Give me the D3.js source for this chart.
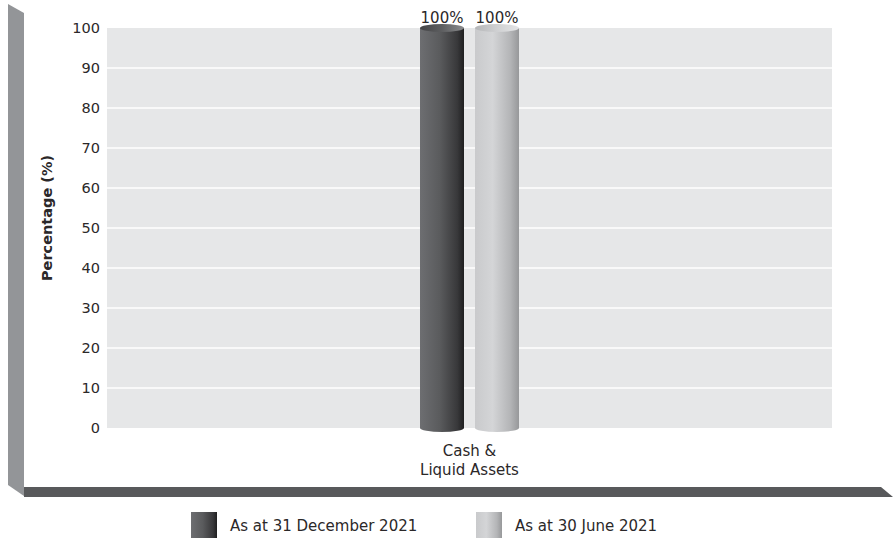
<!DOCTYPE html>
<html><head><meta charset="utf-8">
<script src="https://cdn.jsdelivr.net/npm/d3@7"></script>
<style>body{margin:0;background:#fff}svg{display:block}text{font-family:"DejaVu Sans",sans-serif;fill:#2b2829}</style>
</head><body>
<svg id="c" width="893" height="540"></svg>
<script>
const categories = ["Cash &\nLiquid Assets"];
const seriesNames = ["As at 31 December 2021", "As at 30 June 2021"];
const dec2021 = [100];
const jun2021 = [100];
const yTicks = [0,10,20,30,40,50,60,70,80,90,100];

const svg = d3.select("#c");
const defs = svg.append("defs");
function grad(id, stops){
  const g = defs.append("linearGradient").attr("id",id).attr("x1","0%").attr("x2","100%").attr("y1","0%").attr("y2","0%");
  stops.forEach(s=>g.append("stop").attr("offset",s[0]).attr("stop-color",s[1]));
}
grad("gDark",[["0%","#6d6e71"],["45%","#5a5b5d"],["85%","#38383a"],["100%","#1f1f20"]]);
grad("gDarkTop",[["0%","#444446"],["50%","#5d5e60"],["100%","#8a8b8d"]]);
grad("gLight",[["0%","#c9cacc"],["40%","#d4d5d7"],["80%","#b4b5b7"],["100%","#97989a"]]);
grad("gLightTop",[["0%","#b5b6b8"],["50%","#cfd0d2"],["100%","#e4e5e6"]]);

// 3D wall and floor
svg.append("polygon").attr("points","8,4 24,13 24,496 8,485").attr("fill","#939598");
svg.append("polygon").attr("points","24,487 881,487 893,497 24,497").attr("fill","#58595b");

const x0 = d3.scaleBand().domain(categories).range([107,832]);
const y = d3.scaleLinear().domain([0,100]).range([428,28]);
const groupW = 99;
const x1 = d3.scaleBand().domain(seriesNames).range([0,groupW]).paddingInner(0.2);

svg.append("rect").attr("x",107).attr("y",y(100)).attr("width",725).attr("height",y(0)-y(100)).attr("fill","#e6e7e8");
svg.append("g").selectAll("line").data(yTicks.slice(1,-1)).join("line")
  .attr("x1",107).attr("x2",832).attr("y1",d=>y(d)).attr("y2",d=>y(d))
  .attr("stroke","#fff").attr("stroke-width",1.5);

const yAxis = svg.append("g").attr("transform","translate(107,0)")
  .call(d3.axisLeft(y).tickValues(yTicks).tickSize(0).tickPadding(7));
yAxis.select(".domain").remove();
yAxis.selectAll("text").style("font-size","14.5px").attr("fill","#2b2829").style("font-family","DejaVu Sans");

svg.append("text").attr("transform","translate(52,218) rotate(-90)").attr("text-anchor","middle")
  .style("font-size","14.5px").style("font-weight","bold").text("Percentage (%)");

const series = [
  {name:seriesNames[0], values:dec2021, body:"url(#gDark)", top:"url(#gDarkTop)"},
  {name:seriesNames[1], values:jun2021, body:"url(#gLight)", top:"url(#gLightTop)"}
];
const ry = 4;
series.forEach(s=>{
  categories.forEach((c,i)=>{
    const bx = x0(c) + x0.bandwidth()/2 - groupW/2 + x1(s.name);
    const bw = x1.bandwidth();
    const yt = y(s.values[i]), yb = y(0);
    const g = svg.append("g");
    g.append("path").attr("d",
      `M${bx},${yt} L${bx},${yb} A${bw/2},${ry} 0 0 0 ${bx+bw},${yb} L${bx+bw},${yt} Z`)
      .attr("fill",s.body);
    g.append("ellipse").attr("cx",bx+bw/2).attr("cy",yt).attr("rx",bw/2).attr("ry",ry).attr("fill",s.top);
    g.append("text").attr("x",bx+bw/2).attr("y",yt-5).attr("text-anchor","middle")
      .style("font-size","15px").text(s.values[i]+"%");
  });
});

categories.forEach(c=>{
  const t = svg.append("text").attr("text-anchor","middle").style("font-size","15px");
  c.split("\n").forEach((ln,k)=>t.append("tspan").attr("x",x0(c)+x0.bandwidth()/2).attr("y",456+k*19).text(ln));
});

const legendX = [191,476];
series.forEach((s,i)=>{
  svg.append("rect").attr("x",legendX[i]).attr("y",512).attr("width",26).attr("height",26).attr("fill",s.body);
  svg.append("text").attr("x",legendX[i]+39).attr("y",531).style("font-size","15px").text(s.name);
});
</script>
</body></html>
